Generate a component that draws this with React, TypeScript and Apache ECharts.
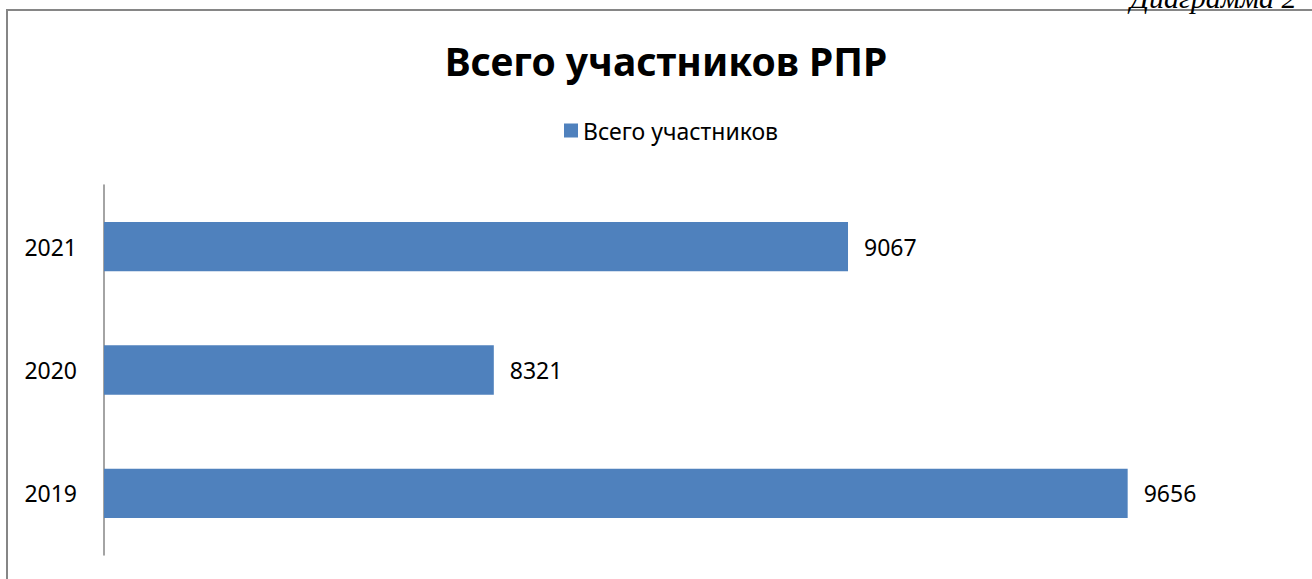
import React, { useEffect, useRef } from "react";
import * as echarts from "echarts";

const categories = ["2019", "2020", "2021"];
const values = [9656, 8321, 9067];
const seriesName = "Всего участников";
const chartTitle = "Всего участников РПР";
const cornerNote = "Диаграмма 2";

export default function App() {
  const ref = useRef<HTMLDivElement>(null);
  useEffect(() => {
    if (!ref.current) return;
    const chart = echarts.init(ref.current, null, { renderer: "svg" });
    const font = "'Noto Sans', sans-serif";
    chart.setOption({
      animation: false,
      backgroundColor: "#ffffff",
      title: {
        text: chartTitle,
        left: 661,
        textAlign: "center",
        top: 36,
        textStyle: { fontFamily: font, fontSize: 39, fontWeight: "bold", color: "#000" },
      },
      legend: {
        data: [seriesName],
        left: 559,
        top: 114,
        icon: "rect",
        itemWidth: 14,
        itemHeight: 14,
        itemGap: 8,
        textStyle: { fontFamily: font, fontSize: 23, color: "#000" },
      },
      grid: { left: 104, right: 21, top: 185, bottom: 24, containLabel: false },
      xAxis: {
        type: "value",
        min: 7500,
        max: 10000,
        show: false,
        splitLine: { show: false },
      },
      yAxis: {
        type: "category",
        data: categories,
        axisLine: { show: true, lineStyle: { color: "#868686", width: 1.5 } },
        axisTick: { show: false },
        axisLabel: { margin: 27, fontFamily: font, fontSize: 23, color: "#000" },
      },
      series: [
        {
          name: seriesName,
          type: "bar",
          data: values,
          barWidth: "40%",
          itemStyle: { color: "#4F81BD" },
          label: {
            show: true,
            position: "right",
            distance: 16,
            fontFamily: font,
            fontSize: 23,
            color: "#000",
          },
        },
      ],
      graphic: [
        {
          type: "rect",
          shape: { x: 7, y: 10, width: 1320, height: 600 },
          style: { fill: "none", stroke: "#868686", lineWidth: 2 },
          silent: true,
        },
        {
          type: "text",
          x: 1130,
          y: 12,
          style: {
            text: cornerNote,
            font: "italic 30px 'Liberation Serif', serif",
            fill: "#000",
            textAlign: "left",
            textVerticalAlign: "bottom",
          },
          silent: true,
        },
      ],
    });
    return () => chart.dispose();
  }, []);
  return (
    <div
      ref={ref}
      style={{ position: "fixed", left: 0, top: 0, width: 1312, height: 579 }}
    />
  );
}
